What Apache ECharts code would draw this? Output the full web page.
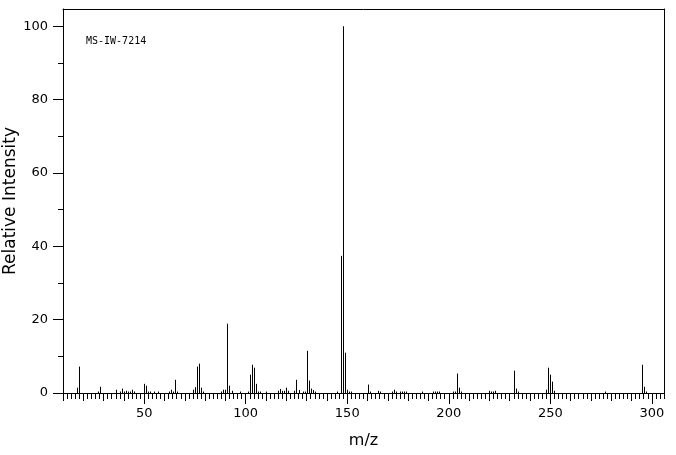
<!DOCTYPE html>
<html>
<head>
<meta charset="utf-8">
<script src="https://cdn.jsdelivr.net/npm/echarts@6.0.0/dist/echarts.min.js"></script>
<style>
html,body{margin:0;padding:0;background:#fff;}
#chart{width:676px;height:455px;}
</style>
</head>
<body>
<div id="chart"></div>
<script>
// ---- data ----
var mzValues = [17,18,27,28,36,38,39,40,41,42,43,44,45,50,51,52,53,55,57,62,63,64,65,66,74,75,76,77,78,79,
  88,89,90,91,92,93,97,101,102,103,104,105,106,107,110,116,117,118,119,120,121,124,125,126,128,129,
  130,131,132,133,134,145,147,148,149,150,151,152,160,161,165,166,172,173,174,176,177,178,179,187,
  192,193,194,195,202,203,204,205,206,220,221,222,223,232,233,234,248,249,250,251,252,277,295,296,297];
var intensityValues = [1.45,7.2,0.4,1.7,0.9,0.4,1.2,0.4,0.6,0.4,0.4,0.9,0.4,2.5,2.0,0.4,0.4,0.4,0.4,0.4,0.9,0.4,3.6,0.4,0.9,1.6,7.2,8.0,1.45,0.4,
  0.4,0.9,0.9,18.9,2.0,0.6,0.4,0.4,5.0,7.7,6.9,2.5,0.4,0.4,0.4,0.6,1.1,0.6,0.6,1.45,0.6,0.6,3.6,0.8,0.4,0.4,
  11.5,3.4,1.2,0.8,0.4,0.4,37.4,100,11.0,0.9,0.4,0.4,2.3,0.4,0.6,0.4,0.4,0.9,0.4,0.4,0.4,0.4,0.4,0.4,
  0.4,0.4,0.4,0.4,0.4,0.4,5.3,1.45,0.4,0.6,0.4,0.4,0.6,6.1,1.2,0.4,0.9,6.9,5.0,3.1,0.6,0.4,7.7,1.7,0.4];
var xTickLabels = [50,100,150,200,250,300];
var yTickLabels = [0,20,40,60,80,100];
var yMinorTicks = [10,30,50,70,90];
var xAxisTitle = 'm/z';
var yAxisTitle = 'Relative Intensity';
var sampleLabel = 'MS-IW-7214';

// ---- axis geometry ----
var X_MIN = 10, X_MAX = 306, Y_MIN = 0, Y_MAX = 104.7;
var xMidTicks = [], xMinorTicks = [];
for (var t = 10; t <= 306; t += 10) xMidTicks.push(t);
for (var t2 = 10; t2 <= 306; t2 += 2) xMinorTicks.push(t2);

var FONT = 'DejaVu Sans';
var data = mzValues.map(function (m, i) { return [m, intensityValues[i]]; });

function baseX(extra) {
  var o = {
    type: 'value', min: X_MIN, max: X_MAX, position: 'bottom',
    splitLine: {show: false},
    axisLine: {show: false, lineStyle: {color: '#000', width: 1}},
    axisTick: {show: false},
    axisLabel: {show: false}
  };
  for (var k in extra) o[k] = extra[k];
  return o;
}
function baseY(extra) {
  var o = {
    type: 'value', min: Y_MIN, max: Y_MAX, position: 'left',
    splitLine: {show: false},
    axisLine: {show: false, lineStyle: {color: '#000', width: 1}},
    axisTick: {show: false},
    axisLabel: {show: false}
  };
  for (var k in extra) o[k] = extra[k];
  return o;
}

var chart = echarts.init(document.getElementById('chart'), null, {renderer: 'canvas'});
chart.setOption({
  animation: false,
  backgroundColor: '#fff',
  grid: {left: 63, right: 12, top: 9, bottom: 62, containLabel: false, outerBoundsMode: 'none'},
  xAxis: [
    baseX({
      axisLine: {show: true, lineStyle: {color: '#000', width: 1}},
      axisTick: {show: true, length: 11, customValues: xTickLabels, lineStyle: {color: '#000', width: 1}},
      axisLabel: {show: true, customValues: xTickLabels, margin: 14, color: '#000', fontFamily: FONT, fontSize: 13},
      name: xAxisTitle, nameLocation: 'middle', nameGap: 40, nameMoveOverlap: false,
      nameTextStyle: {color: '#000', fontFamily: FONT, fontSize: 16}
    }),
    baseX({axisTick: {show: true, length: 8, customValues: xMidTicks, lineStyle: {color: '#000', width: 1}}}),
    baseX({axisTick: {show: true, length: 6, customValues: xMinorTicks, lineStyle: {color: '#000', width: 1}}}),
    baseX({position: 'top', axisLine: {show: true, lineStyle: {color: '#000', width: 1}}})
  ],
  yAxis: [
    baseY({
      axisLine: {show: true, lineStyle: {color: '#000', width: 1}},
      axisTick: {show: true, length: 10, customValues: yTickLabels, lineStyle: {color: '#000', width: 1}},
      axisLabel: {show: true, customValues: yTickLabels, margin: 15, color: '#000', fontFamily: FONT, fontSize: 13},
      name: yAxisTitle, nameLocation: 'middle', nameGap: 44, nameMoveOverlap: false,
      nameTextStyle: {color: '#000', fontFamily: FONT, fontSize: 17}
    }),
    baseY({axisTick: {show: true, length: 5, customValues: yMinorTicks, lineStyle: {color: '#000', width: 1}}}),
    baseY({position: 'right', axisLine: {show: true, lineStyle: {color: '#000', width: 1}}})
  ],
  graphic: [{
    type: 'text', left: 86, top: 36,
    style: {text: sampleLabel, fill: '#000', font: '10px "DejaVu Sans Mono"'}
  }],
  series: [{
    type: 'custom',
    xAxisIndex: 0, yAxisIndex: 0,
    data: data,
    clip: false,
    renderItem: function (params, api) {
      var p0 = api.coord([api.value(0), 0]);
      var p1 = api.coord([api.value(0), api.value(1)]);
      var x = Math.round(p0[0]) + 0.5;
      return {
        type: 'line',
        shape: {x1: x, y1: p0[1], x2: x, y2: p1[1]},
        style: {stroke: '#000', lineWidth: 1}
      };
    }
  }]
});
</script>
</body>
</html>
